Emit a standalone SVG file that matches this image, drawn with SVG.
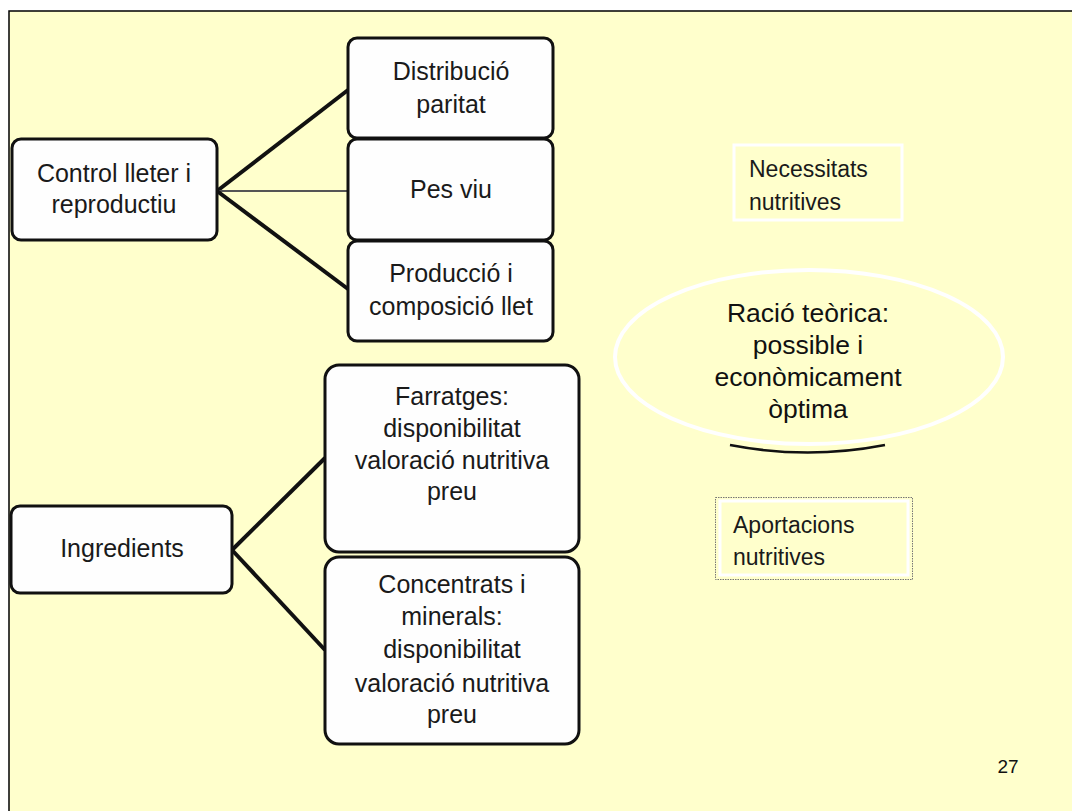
<svg xmlns="http://www.w3.org/2000/svg" width="1072" height="811" viewBox="0 0 1072 811">
<style>
.box{fill:#fefefe;stroke:#111;stroke-width:3}
.t{font-family:"Liberation Sans",Arial,sans-serif;font-size:25px;fill:#1a1a1a;text-anchor:middle}
.tl{font-family:"Liberation Sans",Arial,sans-serif;font-size:23px;fill:#1a1a1a}
.e{font-family:"Liberation Sans",Arial,sans-serif;font-size:26.5px;fill:#111;text-anchor:middle}
.thick{stroke:#111;stroke-width:4;fill:none}
.thin{stroke:#555;stroke-width:2;fill:none}
</style>
<rect x="0" y="0" width="1072" height="811" fill="#ffffff"/>
<rect x="9" y="11" width="1080" height="820" fill="#ffffcc" stroke="#000" stroke-width="1.5"/>
<g id="connectors">
<line class="thick" x1="217" y1="191" x2="348" y2="90"/>
<line class="thin" x1="217" y1="191" x2="348" y2="191"/>
<line class="thick" x1="217" y1="191" x2="348" y2="289"/>
<line class="thick" x1="232" y1="550" x2="325" y2="458"/>
<line class="thick" x1="232" y1="550" x2="325" y2="650"/>
</g>
<g id="control">
<rect class="box" x="12" y="139" width="205" height="101" rx="9"/>
<text class="t" x="114" y="182">Control lleter i</text>
<text class="t" x="114" y="213">reproductiu</text>
</g>
<g id="distribucio">
<rect class="box" x="348" y="38" width="205" height="100" rx="9"/>
<text class="t" x="451" y="80">Distribució</text>
<text class="t" x="451" y="113">paritat</text>
</g>
<g id="pesviu">
<rect class="box" x="348" y="139" width="205" height="101" rx="9"/>
<text class="t" x="451" y="198">Pes viu</text>
</g>
<g id="produccio">
<rect class="box" x="348" y="241" width="205" height="100" rx="9"/>
<text class="t" x="451" y="282">Producció i</text>
<text class="t" x="451" y="315">composició llet</text>
</g>
<g id="ingredients">
<rect class="box" x="11" y="506" width="221" height="87" rx="9"/>
<text class="t" x="122" y="557">Ingredients</text>
</g>
<g id="farratges">
<rect class="box" x="325" y="365" width="254" height="187" rx="14"/>
<text class="t" x="452" y="405">Farratges:</text>
<text class="t" x="452" y="437">disponibilitat</text>
<text class="t" x="452" y="469">valoració nutritiva</text>
<text class="t" x="452" y="500">preu</text>
</g>
<g id="concentrats">
<rect class="box" x="325" y="557" width="254" height="187" rx="14"/>
<text class="t" x="452" y="593">Concentrats i</text>
<text class="t" x="452" y="625">minerals:</text>
<text class="t" x="452" y="658">disponibilitat</text>
<text class="t" x="452" y="692">valoració nutritiva</text>
<text class="t" x="452" y="723">preu</text>
</g>
<g id="necessitats">
<rect x="734" y="145" width="168" height="75" fill="none" stroke="#ffffff" stroke-width="3"/>
<text class="tl" x="749" y="177">Necessitats</text>
<text class="tl" x="749" y="210">nutritives</text>
</g>
<g id="racio">
<path d="M730,445 Q808,460 885,445" fill="none" stroke="#111" stroke-width="2.5"/>
<ellipse cx="809" cy="357" rx="194" ry="87" fill="#ffffcc" stroke="#ffffff" stroke-width="4"/>
<text class="e" x="808" y="322">Ració teòrica:</text>
<text class="e" x="808" y="354">possible i</text>
<text class="e" x="808" y="386">econòmicament</text>
<text class="e" x="808" y="418">òptima</text>
</g>
<g id="aportacions">
<rect x="715.5" y="497.5" width="197" height="82" fill="none" stroke="#777" stroke-width="1" stroke-dasharray="1.5,1"/>
<rect x="720" y="501" width="188" height="74" fill="none" stroke="#ffffff" stroke-width="3"/>
<text class="tl" x="733" y="533">Aportacions</text>
<text class="tl" x="733" y="565">nutritives</text>
</g>
<text x="1008" y="773" font-family="Liberation Sans,Arial,sans-serif" font-size="19" fill="#111" text-anchor="middle">27</text>
</svg>
